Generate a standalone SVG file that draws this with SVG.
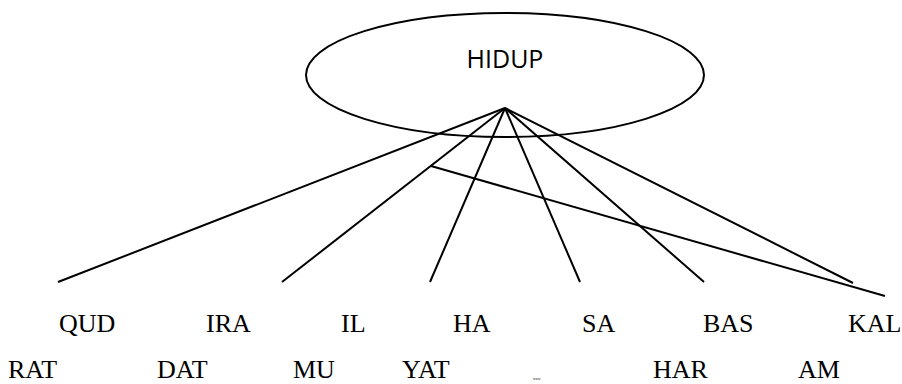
<svg xmlns="http://www.w3.org/2000/svg" width="902" height="384" viewBox="0 0 902 384">
<style>
.ln{stroke:#000;stroke-width:2;fill:none;stroke-linecap:butt}
.lbl{font-family:"Liberation Serif",serif;font-size:26px;fill:#000}
.root{font-family:"Open Sans","DejaVu Sans",sans-serif;font-size:25px;fill:#000}
</style>
<rect width="902" height="384" fill="#fff"/>
<g id="connectors">
<line class="ln" x1="505" y1="108" x2="58" y2="282"/>
<line class="ln" x1="505" y1="108" x2="282" y2="282"/>
<line class="ln" x1="505" y1="108" x2="430" y2="282"/>
<line class="ln" x1="505" y1="108" x2="580" y2="282"/>
<line class="ln" x1="505" y1="108" x2="704" y2="282"/>
<line class="ln" x1="505" y1="108" x2="853" y2="283"/>
<line class="ln" x1="431" y1="166" x2="885" y2="296"/>
</g>
<g id="hidup">
<ellipse cx="505" cy="75" rx="199" ry="62" fill="none" stroke="#000" stroke-width="2"/>
<text class="root" x="505" y="68" text-anchor="middle">HIDUP</text>
</g>
<g id="qud"><text class="lbl" x="59" y="332">QUD</text></g>
<g id="ira"><text class="lbl" x="206" y="332">IRA</text></g>
<g id="il"><text class="lbl" x="341" y="332">IL</text></g>
<g id="ha"><text class="lbl" x="453" y="332">HA</text></g>
<g id="sa"><text class="lbl" x="582" y="332">SA</text></g>
<g id="bas"><text class="lbl" x="703" y="332">BAS</text></g>
<g id="kal"><text class="lbl" x="848" y="332">KAL</text></g>
<g id="rat"><text class="lbl" x="8" y="378">RAT</text></g>
<g id="dat"><text class="lbl" x="157" y="378">DAT</text></g>
<g id="mu"><text class="lbl" x="293" y="378">MU</text></g>
<g id="yat"><text class="lbl" x="402" y="378">YAT</text></g>
<g id="tiny"><text class="lbl" x="533" y="380" style="font-size:3.5px">www</text></g>
<g id="har"><text class="lbl" x="653" y="378">HAR</text></g>
<g id="am"><text class="lbl" x="798" y="378">AM</text></g>
</svg>
